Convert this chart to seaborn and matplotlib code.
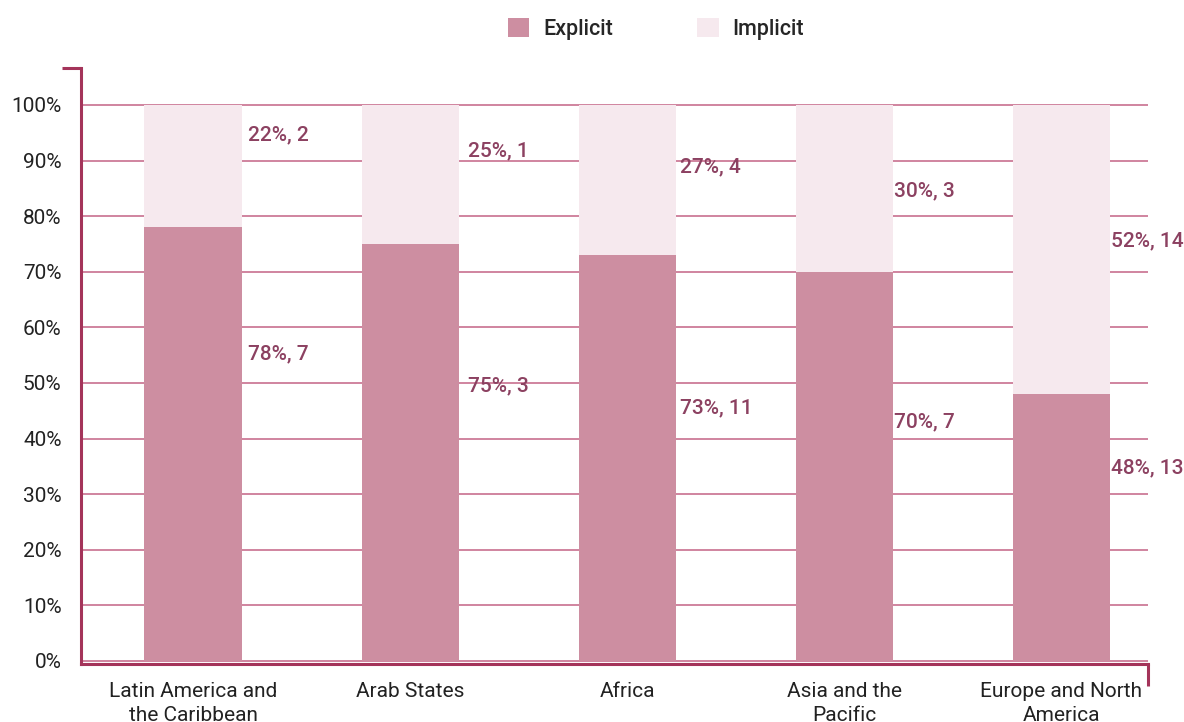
import matplotlib
matplotlib.use("Agg")
import matplotlib.pyplot as plt
import seaborn as sns
import pandas as pd
from matplotlib.patches import Patch

# Regions, shares (%) and counts of explicit / implicit mentions
regions = ["Latin America and\nthe Caribbean", "Arab States", "Africa",
           "Asia and the\nPacific", "Europe and North\nAmerica"]
explicit_pct = [78, 75, 73, 70, 48]
explicit_n = [7, 3, 11, 7, 13]
implicit_pct = [22, 25, 27, 30, 52]
implicit_n = [2, 1, 4, 3, 14]
y_ticks = [0, 10, 20, 30, 40, 50, 60, 70, 80, 90, 100]

# Label placement (value units) and horizontal nudges (pixels)
explicit_label_y = [55.2, 49.5, 45.5, 43.0, 34.7]
implicit_label_y = [94.6, 91.7, 88.8, 84.5, 75.5]
label_dx_px = [6, 9, 4, 1, 1]

EXPLICIT = "#cd8ea1"
IMPLICIT = "#f6e9ee"
SPINE = "#a4345a"
GRID = "#c8708f"
LABEL = "#8c4161"

sns.set_theme(style="white")
plt.rcParams["font.family"] = ["Roboto", "DejaVu Sans"]

df = pd.DataFrame({
    "region": regions,
    "explicit": explicit_pct,
    "total": [e + i for e, i in zip(explicit_pct, implicit_pct)],
})

W, H = 1184, 722
fig = plt.figure(figsize=(W / 100, H / 100), dpi=100)
ax = fig.add_axes([81 / W, 58 / H, (1148 - 81) / W, (664 - 68) / H])

bar_w = 0.447
sns.barplot(data=df, x="region", y="total", color=IMPLICIT, width=bar_w,
            saturation=1, linewidth=0, edgecolor="none", ax=ax, zorder=3)
sns.barplot(data=df, x="region", y="explicit", color=EXPLICIT, width=bar_w,
            saturation=1, linewidth=0, edgecolor="none", ax=ax, zorder=3)

ax.set_xlim(-0.516, 4.40)
ax.set_ylim(-0.54, 106.65)
ax.set_yticks(y_ticks)
ax.set_yticklabels([f"{t}%" for t in y_ticks])
ax.set_xlabel("")
ax.set_ylabel("")

for t in y_ticks:
    ax.axhline(t, color=GRID, lw=1.2, zorder=1)

for s in ["top", "right"]:
    ax.spines[s].set_visible(False)
for s in ["left", "bottom"]:
    ax.spines[s].set_color(SPINE)
    ax.spines[s].set_linewidth(2.2)
    ax.spines[s].set_zorder(4)

# small end ticks on the frame
ax_w_px = 1148 - 81
ax_h_px = 664 - 68
ax.plot([-19 / ax_w_px, 0], [1, 1], transform=ax.transAxes, color=SPINE,
        lw=2.2, clip_on=False, solid_capstyle="butt", zorder=5)
ax.plot([1, 1], [0, -22 / ax_h_px], transform=ax.transAxes, color=SPINE,
        lw=2.2, clip_on=False, solid_capstyle="butt", zorder=5)

FS = 15
ax.tick_params(axis="y", length=0, pad=14, labelsize=FS, labelcolor="#222222")
ax.tick_params(axis="x", length=0, pad=13, labelsize=FS, labelcolor="#222222")
for lab in ax.get_xticklabels():
    lab.set_linespacing(1.3)

units_per_px = (4.40 + 0.516) / ax_w_px
for i in range(len(regions)):
    x0 = i + bar_w / 2 + label_dx_px[i] * units_per_px
    ax.text(x0, explicit_label_y[i], f"{explicit_pct[i]}%, {explicit_n[i]}",
            ha="left", va="center", color=LABEL, fontsize=FS,
            fontweight="medium", zorder=6)
    ax.text(x0, implicit_label_y[i], f"{implicit_pct[i]}%, {implicit_n[i]}",
            ha="left", va="center", color=LABEL, fontsize=FS,
            fontweight="medium", zorder=6)

handles = [Patch(facecolor=EXPLICIT, edgecolor="none", label="Explicit"),
           Patch(facecolor=IMPLICIT, edgecolor="none", label="Implicit")]
fig.legend(handles=handles, loc="center", bbox_to_anchor=(656 / W, 1 - 29 / H),
           ncol=2, frameon=False, handlelength=1.0,
           handleheight=1.0, handletextpad=0.65, columnspacing=3.9,
           prop={"weight": "medium", "size": 15.5})

fig.savefig("out.png", dpi=100)
